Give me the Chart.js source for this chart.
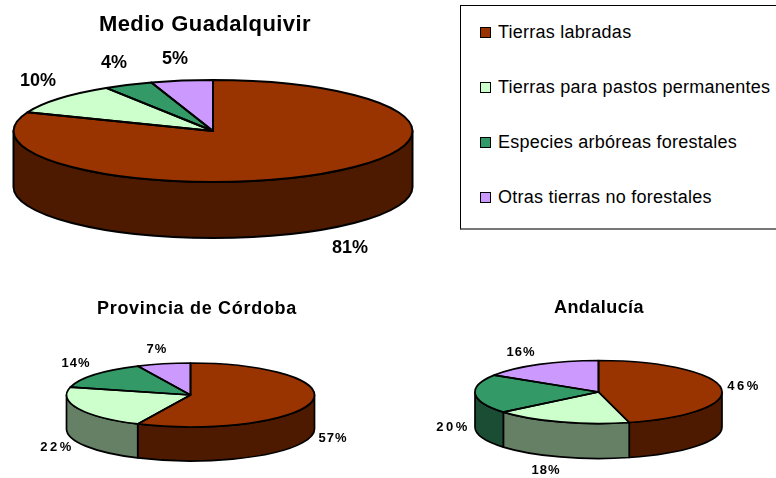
<!DOCTYPE html>
<html>
<head>
<meta charset="utf-8">
<script src="https://cdn.jsdelivr.net/npm/chart.js@4"></script>
<style>
html,body{margin:0;padding:0;background:#fff;width:776px;height:478px;overflow:hidden}
canvas{position:absolute;display:block}
#legend{position:absolute;left:460px;top:5px;width:330px;height:222px;border-left:1px solid #000;border-top:1px solid #000;border-bottom:2px solid #777;font:18px "Liberation Sans",Arial,sans-serif;letter-spacing:.25px;color:#000}
.row{position:absolute;left:19px;white-space:nowrap;line-height:20px;height:20px}
.sw{position:absolute;left:0;top:5px;width:9px;height:9px;border:1.5px solid #000}
.tx{position:absolute;left:18px;top:0}
</style>
</head>
<body>
<canvas id="c1" width="430" height="270" style="left:-10px;top:0"></canvas>
<canvas id="c2" width="334" height="188" style="left:30px;top:290px"></canvas>
<canvas id="c3" width="338" height="188" style="left:430px;top:290px"></canvas>
<div id="legend"></div>
<script>
const categories = ["Tierras labradas","Tierras para pastos permanentes","Especies arbóreas forestales","Otras tierras no forestales"];
const medioValues = [81,10,4,5];
const cordobaValues = [57,22,14,7];
const andaluciaValues = [46,18,20,16];
const topColors = ["#993300","#CCFFCC","#339966","#CC99FF"];
const sideColors = ["#4D1A00","#668066","#1A4D33","#664D80"];
const titles = ["Medio Guadalquivir","Provincia de Córdoba","Andalucía"];

const FONT = '"Liberation Sans",Arial,sans-serif';

const pie3d = {
  id:'pie3d',
  beforeDraw(chart){ chart.ctx.letterSpacing = chart.options.plugins.pie3d.titleSpacing+'px'; },
  beforeDatasetsDraw(chart,args,o){
    const ctx=chart.ctx, arcs=chart.getDatasetMeta(0).data;
    ctx.letterSpacing='0px';
    const a0=arcs[0], k=a0.outerRadius;
    // side walls (only the front half of the ellipse is visible)
    arcs.forEach((arc,i)=>{
      const s=Math.max(arc.startAngle,0), e=Math.min(arc.endAngle,Math.PI);
      if(e<=s) return;
      ctx.beginPath();
      ctx.ellipse(o.cx,o.cy,o.rx,o.ry,0,s,e);
      ctx.ellipse(o.cx,o.cy+o.depth,o.rx,o.ry,0,e,s,true);
      ctx.closePath();
      ctx.fillStyle=sideColors[i];
      ctx.fill();
      ctx.lineWidth=o.lw; ctx.strokeStyle='#000'; ctx.lineJoin='round';
      ctx.stroke();
    });
    // flatten the library's own arcs into the tilted top face
    ctx.save();
    ctx.translate(o.cx,o.cy);
    ctx.scale(o.rx/k,o.ry/k);
    ctx.translate(-a0.x,-a0.y);
  },
  afterDatasetsDraw(chart,args,o){
    const ctx=chart.ctx, meta=chart.getDatasetMeta(0), arcs=meta.data;
    ctx.restore();
    ctx.lineWidth=o.lw; ctx.strokeStyle='#000'; ctx.lineJoin='round';
    arcs.forEach(arc=>{
      ctx.beginPath();
      ctx.moveTo(o.cx,o.cy);
      ctx.ellipse(o.cx,o.cy,o.rx,o.ry,0,arc.startAngle,arc.endAngle);
      ctx.closePath();
      ctx.stroke();
    });
    // percentage labels
    const values=chart.data.datasets[0].data;
    ctx.fillStyle='#000';
    ctx.font=o.labelFont;
    ctx.textAlign='center';
    ctx.textBaseline='middle';
    values.forEach((v,i)=>{
      ctx.letterSpacing=o.labelSpacing[i]+'px';
      ctx.fillText(v+'%',o.labelAt[i][0],o.labelAt[i][1]);
    });
    ctx.letterSpacing='0px';
  }
};

function makeChart(id,values,title,titleFont,titleTop,geom){
  return new Chart(document.getElementById(id),{
    type:'pie',
    data:{labels:categories,datasets:[{data:values,backgroundColor:topColors,borderWidth:0}]},
    plugins:[pie3d],
    options:{
      responsive:false,animation:false,
      events:[],
      plugins:{
        legend:{display:false},
        tooltip:{enabled:false},
        title:{display:true,text:title,color:'#000',font:titleFont,padding:{top:titleTop,bottom:4}},
        pie3d:geom
      }
    }
  });
}

makeChart('c1',medioValues,titles[0],{family:FONT,size:22,weight:'bold'},12,{
  cx:223,cy:131,rx:199.5,ry:51,depth:56,lw:2,titleSpacing:0.45,labelSpacing:[0,0,0,0],
  labelFont:'bold 18px '+FONT,
  labelAt:[[360,248],[48,81],[124,63],[185,59]]
});
makeChart('c2',cordobaValues,titles[1],{family:FONT,size:18,weight:'bold'},8,{
  cx:160.5,cy:105,rx:124,ry:32,depth:34,lw:1.7,titleSpacing:0.7,labelSpacing:[1,2.5,1,1],
  labelFont:'bold 13px '+FONT,
  labelAt:[[303,148],[27,157],[46,73],[127,59]]
});
makeChart('c3',andaluciaValues,titles[2],{family:FONT,size:18,weight:'bold'},7,{
  cx:168.5,cy:102,rx:123.5,ry:31.5,depth:35,lw:1.7,titleSpacing:0.45,labelSpacing:[2.5,1,2.5,1],
  labelFont:'bold 13px '+FONT,
  labelAt:[[314,96],[116,180],[23,137],[91,62]]
});

const legendTops=[16,71,126,181];
const legend=document.getElementById('legend');
categories.forEach((name,i)=>{
  const r=document.createElement('div');r.className='row';r.style.top=(legendTops[i])+'px';
  const s=document.createElement('span');s.className='sw';s.style.background=topColors[i];
  const t=document.createElement('span');t.className='tx';t.textContent=name;
  r.appendChild(s);r.appendChild(t);legend.appendChild(r);
});
</script>
</body>
</html>
